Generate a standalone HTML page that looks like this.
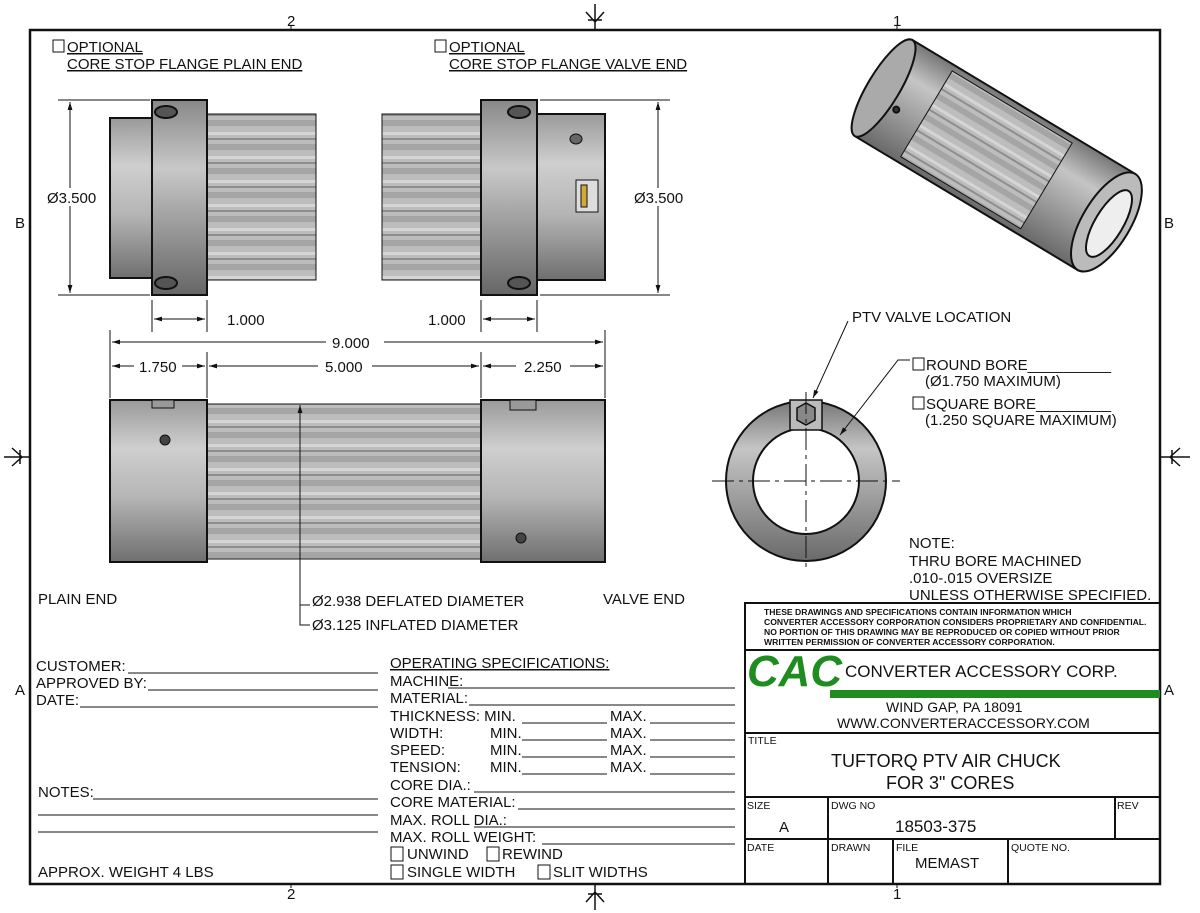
<!DOCTYPE html>
<html><head><meta charset="utf-8"><style>
html,body{margin:0;padding:0;background:#fff;}
svg{display:block;font-family:"Liberation Sans Narrow","Liberation Sans",sans-serif;}
.t{font-size:15px;fill:#111;}
.w{font-family:"Liberation Sans",sans-serif;}
</style></head><body>
<svg width="1200" height="913" viewBox="0 0 1200 913" xmlns="http://www.w3.org/2000/svg">
<defs>
<linearGradient id="gv" x1="0" y1="0" x2="0" y2="1">
<stop offset="0" stop-color="#9a9a9a"/><stop offset="0.3" stop-color="#cfcfcf"/><stop offset="0.6" stop-color="#b5b5b5"/><stop offset="1" stop-color="#6f6f6f"/></linearGradient>
<linearGradient id="gf" x1="0" y1="0" x2="0" y2="1">
<stop offset="0" stop-color="#888"/><stop offset="0.35" stop-color="#c8c8c8"/><stop offset="1" stop-color="#666"/></linearGradient>
<pattern id="kn" width="10" height="24" patternUnits="userSpaceOnUse">
<rect width="10" height="24" fill="#bdbdbd"/><rect y="0" width="10" height="6" fill="#a5a5a5"/><rect y="12" width="10" height="3" fill="#d5d5d5"/><rect y="18" width="10" height="2" fill="#8e8e8e"/></pattern>
<linearGradient id="gi" x1="0" y1="0" x2="0" y2="1">
<stop offset="0" stop-color="#777"/><stop offset="0.3" stop-color="#c5c5c5"/><stop offset="1" stop-color="#6a6a6a"/></linearGradient>
<marker id="a" viewBox="0 0 10 10" refX="10" refY="5" markerWidth="8" markerHeight="8" orient="auto-start-reverse"><path d="M0,2 L10,5 L0,8z" fill="#111"/></marker>
</defs>
<g stroke="#111" fill="none">
<rect x="30" y="30" width="1130" height="854" stroke-width="2.5"/>
<path d="M595 4V30M586 12L595 22L604 12M588 20h14" stroke-width="1.5"/>
<path d="M595 884V910M586 902L595 892L604 902M588 894h14" stroke-width="1.5"/>
<path d="M4 457H30M12 448L22 457L12 466M20 450v14" stroke-width="1.5"/>
<path d="M1160 457H1190M1180 448L1170 457L1180 466M1172 450v14" stroke-width="1.5"/>
<path d="M291 30v-4M897 30v-4M291 884v4M897 884v4" />
</g>
<g class="t w" font-size="14">
<text x="287" y="26">2</text><text x="893" y="26">1</text>
<text x="287" y="899">2</text><text x="893" y="899">1</text>
<text x="15" y="228">B</text><text x="15" y="695">A</text>
<text x="1164" y="228">B</text><text x="1164" y="695">A</text>
</g>

<g stroke="#111" stroke-width="2">
<rect x="110" y="118" width="42" height="160" fill="url(#gv)"/>
<rect x="207" y="114" width="109" height="166" fill="url(#kn)" stroke-width="1"/>
<rect x="152" y="100" width="55" height="195" fill="url(#gf)"/>
<ellipse cx="166" cy="112" rx="11" ry="6" fill="#555"/><ellipse cx="166" cy="283" rx="11" ry="6" fill="#555"/>
</g>
<g stroke="#111" stroke-width="2">
<rect x="382" y="114" width="99" height="166" fill="url(#kn)" stroke-width="1"/>
<rect x="537" y="114" width="68" height="166" fill="url(#gv)"/>
<rect x="481" y="100" width="56" height="195" fill="url(#gf)"/>
<ellipse cx="519" cy="112" rx="11" ry="6" fill="#555"/><ellipse cx="519" cy="283" rx="11" ry="6" fill="#555"/>
<ellipse cx="576" cy="139" rx="6" ry="5" fill="#666" stroke-width="1"/>
<rect x="576" y="180" width="22" height="32" fill="#ddd" stroke-width="1"/>
<rect x="581" y="185" width="6" height="22" fill="#d4a73a" stroke-width="1"/>
</g>
<g stroke="#111" stroke-width="1" fill="none">
<path d="M58 100H150M58 295H150"/>
<path d="M70 102V293" marker-start="url(#a)" marker-end="url(#a)"/>
<path d="M540 100H670M540 295H670"/>
<path d="M658 102V293" marker-start="url(#a)" marker-end="url(#a)"/>
<path d="M152 300V332M207 300V332"/><path d="M154 319H205" marker-start="url(#a)" marker-end="url(#a)"/>
<path d="M481 300V332M537 300V332"/><path d="M483 319H535" marker-start="url(#a)" marker-end="url(#a)"/>
<path d="M110 330V398M605 330V398M207 352V398M481 352V398"/>
<path d="M112 342H603" marker-start="url(#a)" marker-end="url(#a)"/>
<path d="M112 366H205" marker-start="url(#a)" marker-end="url(#a)"/>
<path d="M209 366H479" marker-start="url(#a)" marker-end="url(#a)"/>
<path d="M483 366H603" marker-start="url(#a)" marker-end="url(#a)"/>
</g>
<g class="t w" font-size="15">
<rect x="48" y="188" width="52" height="18" fill="#fff"/><text x="47" y="203">Ø3.500</text>
<rect x="632" y="188" width="56" height="18" fill="#fff"/><text x="634" y="203">Ø3.500</text>
<rect x="218" y="311" width="52" height="16" fill="#fff"/><text x="227" y="325">1.000</text>
<rect x="420" y="311" width="50" height="16" fill="#fff"/><text x="428" y="325">1.000</text>
<rect x="326" y="334" width="58" height="16" fill="#fff"/><text x="332" y="348">9.000</text>
<rect x="134" y="358" width="48" height="16" fill="#fff"/><text x="139" y="372">1.750</text>
<rect x="318" y="358" width="54" height="16" fill="#fff"/><text x="325" y="372">5.000</text>
<rect x="516" y="358" width="54" height="16" fill="#fff"/><text x="524" y="372">2.250</text>
</g>
<g class="t w" font-size="14">
<rect x="53" y="40" width="11" height="12" fill="none" stroke="#111"/>
<text x="67" y="52" text-decoration="underline">OPTIONAL</text>
<text x="67" y="69" text-decoration="underline">CORE STOP FLANGE PLAIN END</text>
<rect x="435" y="40" width="11" height="12" fill="none" stroke="#111"/>
<text x="449" y="52" text-decoration="underline">OPTIONAL</text>
<text x="449" y="69" text-decoration="underline">CORE STOP FLANGE VALVE END</text>
</g>

<g stroke="#111" stroke-width="2">
<rect x="207" y="404" width="274" height="155" fill="url(#kn)" stroke-width="1"/>
<rect x="110" y="400" width="97" height="162" fill="url(#gv)"/>
<rect x="481" y="400" width="124" height="162" fill="url(#gv)"/>
<rect x="152" y="400" width="22" height="8" fill="#999" stroke-width="1"/>
<rect x="510" y="400" width="26" height="10" fill="#999" stroke-width="1"/>
<circle cx="165" cy="440" r="5" fill="#444" stroke-width="1"/>
<circle cx="521" cy="538" r="5" fill="#444" stroke-width="1"/>
</g>
<g stroke="#111" stroke-width="1" fill="none">
<path d="M300 405V598" marker-start="url(#a)"/>
<path d="M300 598V605H310M300 605V625H310"/>
</g>
<g class="t w" font-size="15">
<text x="38" y="604">PLAIN END</text><text x="603" y="604">VALVE END</text>
<text x="312" y="606">Ø2.938 DEFLATED DIAMETER</text>
<text x="312" y="630">Ø3.125 INFLATED DIAMETER</text>
</g>

<g stroke="#111">
<circle cx="806" cy="481" r="80" fill="url(#gi)" stroke-width="2"/>
<circle cx="806" cy="481" r="53" fill="#fff" stroke-width="2"/>
<rect x="790" y="400" width="32" height="30" fill="#bbb" stroke-width="1.5"/>
<polygon points="797,408 806,403 815,408 815,420 806,425 797,420" fill="#888" stroke-width="1.5"/>
<path d="M712 481H900M806 392V572" stroke-width="1" stroke-dasharray="22,5,4,5" fill="none"/>
<path d="M848 321L813 398" stroke-width="1" fill="none" marker-end="url(#a)"/>
<path d="M910 360H898L840 435" stroke-width="1" fill="none" marker-end="url(#a)"/>
</g>
<g class="t w" font-size="15">
<text x="852" y="322">PTV VALVE LOCATION</text>
<rect x="913" y="358" width="11" height="12" fill="none" stroke="#111"/>
<text x="926" y="370">ROUND BORE__________</text>
<text x="925" y="386">(Ø1.750 MAXIMUM)</text>
<rect x="913" y="397" width="11" height="12" fill="none" stroke="#111"/>
<text x="926" y="409">SQUARE BORE_________</text>
<text x="925" y="425">(1.250 SQUARE MAXIMUM)</text>
<text x="909" y="548">NOTE:</text>
<text x="909" y="566">THRU BORE MACHINED</text>
<text x="909" y="583">.010-.015 OVERSIZE</text>
<text x="909" y="600">UNLESS OTHERWISE SPECIFIED.</text>
</g>

<g transform="translate(995,155) rotate(31)" stroke="#111" stroke-width="2">
<rect x="-130" y="-56" width="260" height="112" fill="url(#gi)"/>
<rect x="-80" y="-50" width="140" height="100" fill="url(#kn)" stroke-width="1"/>
<ellipse cx="-130" cy="0" rx="16" ry="56" fill="#aaa"/>
<ellipse cx="130" cy="0" rx="24" ry="56" fill="#bbb"/>
<ellipse cx="133" cy="0" rx="14" ry="38" fill="#eee"/>
<circle cx="-108" cy="12" r="3" fill="#333"/>
</g>

<g class="t" font-size="15.5">
<text x="36" y="671">CUSTOMER:</text><text x="36" y="688">APPROVED BY:</text><text x="36" y="705">DATE:</text>
<text x="38" y="797">NOTES:</text><text x="38" y="877">APPROX. WEIGHT 4 LBS</text>
<text x="390" y="668" text-decoration="underline">OPERATING SPECIFICATIONS:</text>
<text x="390" y="686">MACHINE:</text><text x="390" y="703">MATERIAL:</text>
<text x="390" y="721">THICKNESS: MIN.</text><text x="610" y="721">MAX.</text>
<text x="390" y="738">WIDTH:</text><text x="490" y="738">MIN.</text><text x="610" y="738">MAX.</text>
<text x="390" y="755">SPEED:</text><text x="490" y="755">MIN.</text><text x="610" y="755">MAX.</text>
<text x="390" y="772">TENSION:</text><text x="490" y="772">MIN.</text><text x="610" y="772">MAX.</text>
<text x="390" y="790">CORE DIA.:</text><text x="390" y="807">CORE MATERIAL:</text>
<text x="390" y="825">MAX. ROLL DIA.:</text><text x="390" y="842">MAX. ROLL WEIGHT:</text>
<text x="407" y="859">UNWIND</text><text x="502" y="859">REWIND</text>
<text x="407" y="877">SINGLE WIDTH</text><text x="553" y="877">SLIT WIDTHS</text>
</g>
<g stroke="#111" stroke-width="1" fill="none">
<path d="M128 673H378M148 690H378M80 707H378M93 799H378M38 815H378M38 832H378"/>
<path d="M448 688H735M469 705H735M522 723H607M650 723H735M522 740H607M650 740H735M522 757H607M650 757H735M522 774H607M650 774H735M474 792H735M518 809H735M474 827H735M542 844H735"/>
<rect x="391" y="847" width="12" height="14"/><rect x="487" y="847" width="12" height="14"/>
<rect x="391" y="865" width="12" height="14"/><rect x="538" y="865" width="12" height="14"/>
</g>

<g stroke="#111" stroke-width="2" fill="none">
<rect x="745" y="603" width="415" height="281"/>
<path d="M745 650H1160M745 733H1160M745 797H1160M745 839H1160"/>
<path d="M828 797V884M1115 797V839M893 839V884M1008 839V884"/>
</g>
<g font-family="'Liberation Sans',sans-serif" font-weight="bold" font-size="8.6" fill="#111">
<text x="764" y="615">THESE DRAWINGS AND SPECIFICATIONS CONTAIN INFORMATION WHICH</text>
<text x="764" y="625">CONVERTER ACCESSORY CORPORATION CONSIDERS PROPRIETARY AND CONFIDENTIAL.</text>
<text x="764" y="635">NO PORTION OF THIS DRAWING MAY BE REPRODUCED OR COPIED WITHOUT PRIOR</text>
<text x="764" y="645">WRITTEN PERMISSION OF CONVERTER ACCESSORY CORPORATION.</text>
</g>
<g fill="#1e8c1e">
<rect x="830" y="690" width="330" height="8"/>
<text x="747" y="686" font-family="'Liberation Sans',sans-serif" font-weight="bold" font-style="italic" font-size="44" textLength="95" lengthAdjust="spacingAndGlyphs">CAC</text>
</g>
<g class="t w">
<text x="845" y="677" font-size="17">CONVERTER ACCESSORY CORP.</text>
<text x="886" y="712" font-size="14">WIND GAP, PA 18091</text>
<text x="837" y="728" font-size="14">WWW.CONVERTERACCESSORY.COM</text>
<text x="748" y="744" font-size="10.5">TITLE</text>
<text x="831" y="767" font-size="18">TUFTORQ PTV AIR CHUCK</text>
<text x="886" y="789" font-size="18">FOR 3" CORES</text>
<text x="747" y="809" font-size="10.5">SIZE</text>
<text x="779" y="832" font-size="15">A</text>
<text x="831" y="809" font-size="10.5">DWG NO</text>
<text x="895" y="832" font-size="17">18503-375</text>
<text x="1117" y="809" font-size="10.5">REV</text>
<text x="747" y="851" font-size="10.5">DATE</text>
<text x="831" y="851" font-size="10.5">DRAWN</text>
<text x="896" y="851" font-size="10.5">FILE</text>
<text x="915" y="868" font-size="15">MEMAST</text>
<text x="1011" y="851" font-size="10.5">QUOTE NO.</text>
</g>
</svg>
</body></html>
